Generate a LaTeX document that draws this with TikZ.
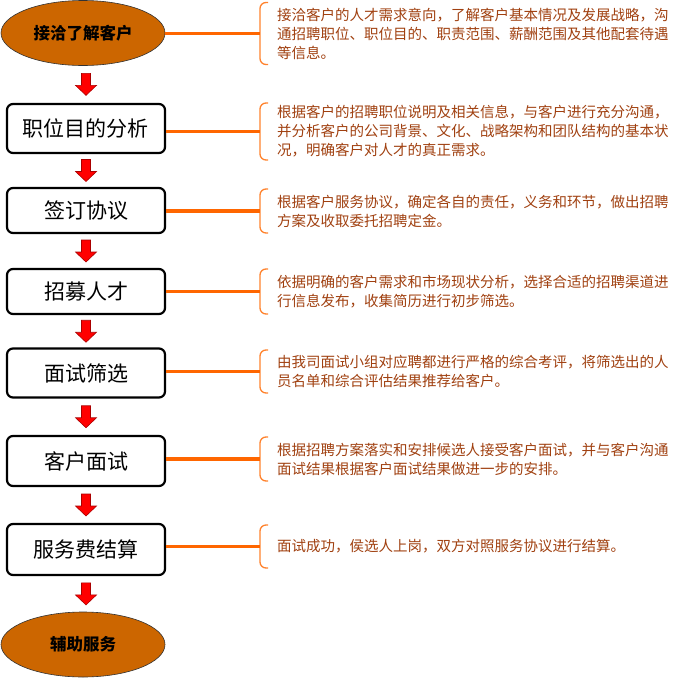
\documentclass[tikz,border=0pt]{standalone}
\usepackage{fontspec}
\setmainfont{Noto Sans CJK SC}
\usetikzlibrary{shapes.geometric,calc}
\definecolor{stepfill}{RGB}{204,102,0}
\definecolor{linkorange}{RGB}{255,102,0}
\definecolor{braceorange}{RGB}{255,130,45}
\definecolor{textbrown}{RGB}{160,64,16}
\definecolor{arrowedge}{RGB}{170,0,0}
\tikzset{
  startstop/.style={ellipse, draw=black!80, line width=0.6pt, fill=stepfill,
    minimum width=164pt, minimum height=65pt, inner sep=0pt,
    font=\bfseries\fontsize{16.5}{18}\selectfont},
  procbox/.style={rectangle, rounded corners=6pt, draw, line width=2.2pt,
    minimum width=158pt, inner sep=0pt, font=\fontsize{21}{24}\selectfont},
  link/.style={draw=linkorange, line width=3.2pt},
  brace/.style={draw=braceorange, line width=1.3pt, rounded corners=6pt},
  note/.style={anchor=west, align=left, text=textbrown, inner sep=0pt,
    font=\fontsize{14.5}{19}\selectfont},
  downarrow/.style={draw=arrowedge, line width=0.6pt, fill=red}
}
\begin{document}
\begin{tikzpicture}[x=1pt, y=-1pt]
  \useasboundingbox (0,0) rectangle (680,678);

  % the steps
  \node[startstop] (contact) at (83,33) {接洽了解客户};
  \node[procbox, minimum height=49pt] (analysis)  at (86,128.5) {职位目的分析};
  \node[procbox, minimum height=45pt] (agreement) at (86,210.5) {签订协议};
  \node[procbox, minimum height=45pt] (recruit)   at (86,291.5) {招募人才};
  \node[procbox, minimum height=49pt] (screen)    at (86,373)   {面试筛选};
  \node[procbox, minimum height=50pt] (interview) at (86,461)   {客户面试};
  \node[procbox, minimum height=51pt] (settle)    at (86,549.5) {服务费结算};
  \node[startstop] (support) at (83,644.5) {辅助服务};

  % the red arrows
  \foreach \a/\b in {contact/analysis, analysis/agreement, agreement/recruit,
                     recruit/screen, screen/interview, interview/settle,
                     settle/support}
  {
    \path ($(\a.south)!0.5!(\b.north)$) coordinate (m);
    \draw[downarrow] (analysis |- m) ++(-4.5,-11) -- ++(9,0) -- ++(0,12)
      -- ++(6,0) -- ++(-10.5,10) -- ++(-10.5,-10) -- ++(6,0) -- cycle;
  }

  % braces, links and notes
  \foreach \s/\y/\h/\txt in {
    contact/33.5/31/{接洽客户的人才需求意向，了解客户基本情况及发展战略，沟\\通招聘职位、职位目的、职责范围、薪酬范围及其他配套待遇\\等信息。},
    analysis/131.5/28.5/{根据客户的招聘职位说明及相关信息，与客户进行充分沟通，\\并分析客户的公司背景、文化、战略架构和团队结构的基本状\\况，明确客户对人才的真正需求。},
    agreement/211/22/{根据客户服务协议，确定各自的责任，义务和环节，做出招聘\\方案及收取委托招聘定金。},
    recruit/291.5/22.5/{依据明确的客户需求和市场现状分析，选择合适的招聘渠道进\\行信息发布，收集简历进行初步筛选。},
    screen/371.5/21.5/{由我司面试小组对应聘都进行严格的综合考评，将筛选出的人\\员名单和综合评估结果推荐给客户。},
    interview/459/22/{根据招聘方案落实和安排候选人接受客户面试，并与客户沟通\\面试结果根据客户面试结果做进一步的安排。},
    settle/546.5/21.5/{面试成功，侯选人上岗，双方对照服务协议进行结算。}}
  {
    \coordinate (b-\s) at (260,\y);
    \draw[brace] ([shift={(8,-\h)}]b-\s) -| (b-\s) |- ([shift={(8,\h)}]b-\s);
    \draw[link] (b-\s -| \s.east) -- (b-\s);
    \node[note] (n-\s) at (277,\y) {\txt};
  }
\end{tikzpicture}
\end{document}
